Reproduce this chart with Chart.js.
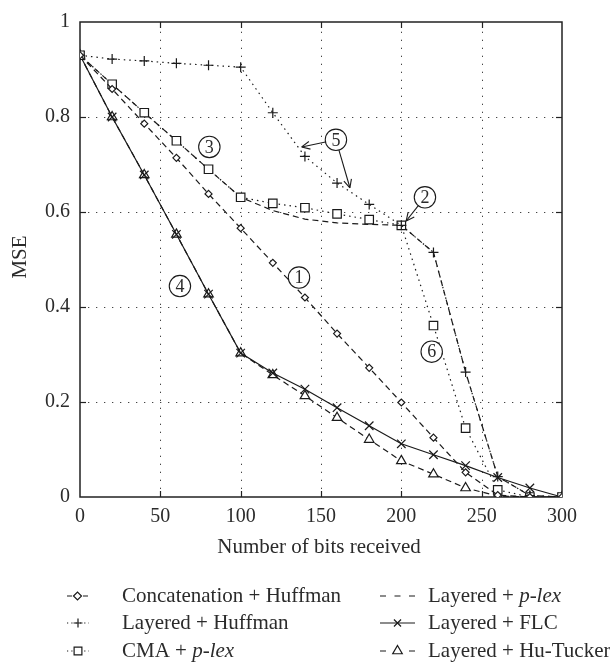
<!DOCTYPE html>
<html>
<head>
<meta charset="utf-8">
<script src="https://cdn.jsdelivr.net/npm/chart.js@4/dist/chart.umd.min.js"></script>
<style>
  html, body { margin: 0; padding: 0; background: #fff; }
  #wrap { width: 610px; height: 662px; position: relative; }
</style>
</head>
<body>
<div id="wrap"><canvas id="chart"></canvas></div>
<script>
// --- data (MSE vs number of bits received) ---
const bits = [0, 20, 40, 60, 80, 100, 120, 140, 160, 180, 200, 220, 240, 260, 280, 300];
const concatHuffman = [0.93, 0.859, 0.786, 0.714, 0.638, 0.566, 0.493, 0.420, 0.344, 0.272, 0.199, 0.125, 0.052, 0.004, 0, 0];
const layeredHuffman = [0.93, 0.922, 0.918, 0.913, 0.909, 0.905, 0.809, 0.717, 0.661, 0.616, 0.572, 0.515, 0.263, 0.043, 0.003, 0];
const cmaPlex = [0.93, 0.869, 0.809, 0.750, 0.690, 0.631, 0.618, 0.609, 0.596, 0.584, 0.572, 0.361, 0.145, 0.015, 0, 0];
const layeredPlex = [0.93, 0.869, 0.809, 0.750, 0.690, 0.631, 0.603, 0.585, 0.577, 0.574, 0.572, 0.515, 0.263, 0.043, 0.003, 0];
const layeredFLC = [0.93, 0.80, 0.678, 0.553, 0.427, 0.303, 0.261, 0.227, 0.188, 0.150, 0.112, 0.089, 0.066, 0.041, 0.019, 0];
const layeredHuTucker = [0.93, 0.80, 0.678, 0.553, 0.427, 0.303, 0.257, 0.213, 0.167, 0.121, 0.076, 0.048, 0.019, 0.002, 0, 0];

const xTicks = [0, 50, 100, 150, 200, 250, 300];
const yTicks = [0, 0.2, 0.4, 0.6, 0.8, 1];

// circled labels and arrows, in data units
const circleLabels = [
  { t: '1', x: 136.3, y: 0.462 },
  { t: '2', x: 214.7, y: 0.631 },
  { t: '3', x: 80.5, y: 0.737 },
  { t: '4', x: 62.2, y: 0.444 },
  { t: '5', x: 159.3, y: 0.752 },
  { t: '6', x: 218.9, y: 0.306 }
];
const arrows = [
  { from: '5', x: 138, y: 0.737 },
  { from: '5', x: 168, y: 0.651 },
  { from: '2', x: 203, y: 0.581 }
];

const INK = '#1a1a1a';
const TEXT = '#2b2b2b';
const FONT = '"Liberation Serif", "DejaVu Serif", serif';

Chart.defaults.font.family = FONT;
Chart.defaults.font.size = 20;
Chart.defaults.color = TEXT;

const toXY = arr => arr.map((v, i) => ({ x: bits[i], y: v }));

// legend symbol: length and dash pattern per series
const datasets = [
  { label: 'Concatenation + Huffman', parts: ['Concatenation + Huffman'], data: toXY(concatHuffman),
    borderDash: [6, 4], pointStyle: 'rectRot', pointRadius: 3.5, pointBackgroundColor: '#fff',
    legLen: 21, legDash: [5, 11], legR: 4 },
  { label: 'Layered + Huffman', parts: ['Layered + Huffman'], data: toXY(layeredHuffman),
    borderDash: [1.5, 4], pointStyle: 'cross', pointRadius: 5, pointBackgroundColor: INK,
    legLen: 22, legDash: [1.2, 3.1], legR: 4.5 },
  { label: 'CMA + p-lex', parts: ['CMA + ', 'p-lex'], data: toXY(cmaPlex),
    borderDash: [1.5, 4], pointStyle: 'rect', pointRadius: 6, pointBackgroundColor: '#fff',
    legLen: 22, legDash: [1.2, 3.1], legR: 5.5 },
  { label: 'Layered + p-lex', parts: ['Layered + ', 'p-lex'], data: toXY(layeredPlex),
    borderDash: [6, 4], pointStyle: 'circle', pointRadius: 0, pointBackgroundColor: '#fff',
    legLen: 35, legDash: [6, 8.5], legR: 0 },
  { label: 'Layered + FLC', parts: ['Layered + FLC'], data: toXY(layeredFLC),
    borderDash: [], pointStyle: 'crossRot', pointRadius: 6, pointBackgroundColor: INK,
    legLen: 35, legDash: [], legR: 5 },
  { label: 'Layered + Hu-Tucker', parts: ['Layered + Hu-Tucker'], data: toXY(layeredHuTucker),
    borderDash: [6, 4], pointStyle: 'triangle', pointRadius: 5.5, pointBackgroundColor: '#fff',
    legLen: 35, legDash: [6, 23], legR: 5.5 }
].map(d => Object.assign({
  borderColor: INK, borderWidth: 1.2, pointBorderColor: INK, pointBorderWidth: 1.2,
  tension: 0, fill: false
}, d));

function strokeLine(ctx, x1, y1, x2, y2) {
  ctx.beginPath(); ctx.moveTo(x1, y1); ctx.lineTo(x2, y2); ctx.stroke();
}

// grid, frame, inner tick marks
const framePlugin = {
  id: 'framePlugin',
  beforeDatasetsDraw(chart) {
    const { ctx, chartArea: a, scales: { x, y } } = chart;
    ctx.save();
    ctx.strokeStyle = '#444';
    ctx.lineWidth = 1;
    ctx.setLineDash([1.3, 6.7]);
    xTicks.slice(1, -1).forEach(v => {
      const px = Math.round(x.getPixelForValue(v)) + 0.5;
      strokeLine(ctx, px, a.bottom, px, a.top);
    });
    yTicks.slice(1, -1).forEach(v => {
      const py = Math.round(y.getPixelForValue(v)) + 0.5;
      strokeLine(ctx, a.left, py, a.right, py);
    });
    ctx.setLineDash([]);
    ctx.strokeStyle = '#222';
    ctx.lineWidth = 1.2;
    xTicks.slice(1, -1).forEach(v => {
      const px = Math.round(x.getPixelForValue(v)) + 0.5;
      strokeLine(ctx, px, a.bottom, px, a.bottom - 6);
      strokeLine(ctx, px, a.top, px, a.top + 6);
    });
    yTicks.slice(1, -1).forEach(v => {
      const py = Math.round(y.getPixelForValue(v)) + 0.5;
      strokeLine(ctx, a.left, py, a.left + 6, py);
      strokeLine(ctx, a.right, py, a.right - 6, py);
    });
    ctx.lineWidth = 1.5;
    ctx.strokeRect(a.left, a.top, a.right - a.left, a.bottom - a.top);
    ctx.restore();
  },
  afterDraw(chart) {
    const { ctx, chartArea: a, scales: { x, y } } = chart;
    ctx.save();

    // axis titles
    ctx.fillStyle = TEXT;
    ctx.font = '21px ' + FONT;
    ctx.textAlign = 'center';
    ctx.textBaseline = 'middle';
    ctx.fillText('Number of bits received', 319, 547);
    ctx.save();
    ctx.translate(20, 257);
    ctx.rotate(-Math.PI / 2);
    ctx.fillText('MSE', 0, 0);
    ctx.restore();

    // circled numbers
    const R = 10.7;
    const centers = {};
    ctx.strokeStyle = INK;
    ctx.lineWidth = 1.1;
    ctx.font = '18px ' + FONT;
    circleLabels.forEach(c => {
      const cx = x.getPixelForValue(c.x), cy = y.getPixelForValue(c.y);
      centers[c.t] = [cx, cy];
      ctx.fillStyle = '#fff';
      ctx.beginPath(); ctx.arc(cx, cy, R, 0, Math.PI * 2); ctx.fill(); ctx.stroke();
      ctx.fillStyle = TEXT;
      ctx.fillText(c.t, cx, cy + 1);
    });

    // arrows with open heads
    arrows.forEach(ar => {
      const [cx, cy] = centers[ar.from];
      const tx = x.getPixelForValue(ar.x), ty = y.getPixelForValue(ar.y);
      const ang = Math.atan2(ty - cy, tx - cx);
      const sx = cx + Math.cos(ang) * R, sy = cy + Math.sin(ang) * R;
      strokeLine(ctx, sx, sy, tx, ty);
      [0.45, -0.45].forEach(d => {
        strokeLine(ctx, tx, ty, tx - Math.cos(ang + d) * 9, ty - Math.sin(ang + d) * 9);
      });
    });

    // legend, two columns of three
    const cols = [{ sx: 67, tx: 122 }, { sx: 380, tx: 428 }];
    const rows = [596, 623, 651];
    chart.data.datasets.forEach((ds, i) => {
      const col = cols[Math.floor(i / 3)];
      const ly = rows[i % 3];
      const mid = col.sx + ds.legLen / 2;
      ctx.strokeStyle = INK;
      ctx.lineWidth = ds.borderWidth;
      ctx.setLineDash(ds.legDash);
      strokeLine(ctx, col.sx, ly, col.sx + ds.legLen, ly);
      ctx.setLineDash([]);
      if (ds.legR > 0) {
        ctx.fillStyle = ds.pointBackgroundColor;
        Chart.helpers.drawPoint(ctx, {
          pointStyle: ds.pointStyle, radius: ds.legR, borderWidth: 1.3, rotation: 0
        }, mid, ly);
      }
      ctx.fillStyle = TEXT;
      ctx.textAlign = 'left';
      let px = col.tx;
      ds.parts.forEach((p, k) => {
        ctx.font = (k === 1 ? 'italic ' : '') + '21px ' + FONT;
        ctx.fillText(p, px, ly);
        px += ctx.measureText(p).width;
      });
    });
    ctx.restore();
  }
};

new Chart(document.getElementById('chart'), {
  type: 'line',
  data: { datasets },
  options: {
    responsive: true,
    maintainAspectRatio: false,
    animation: false,
    layout: { padding: { left: 0, top: 15, right: 48, bottom: 0 } },
    plugins: { legend: { display: false }, tooltip: { enabled: false } },
    scales: {
      x: {
        type: 'linear', min: 0, max: 300,
        afterBuildTicks: s => { s.ticks = xTicks.map(v => ({ value: v })); },
        afterFit: s => { s.height = 165; },
        grid: { display: false, drawTicks: false },
        border: { display: false },
        ticks: { padding: 8, color: TEXT, maxRotation: 0 }
      },
      y: {
        min: 0, max: 1,
        afterBuildTicks: s => { s.ticks = yTicks.map(v => ({ value: v })); },
        afterFit: s => { s.width = 80; },
        grid: { display: false, drawTicks: false },
        border: { display: false },
        ticks: { padding: 10, color: TEXT, callback: v => String(+v.toFixed(1)) }
      }
    }
  },
  plugins: [framePlugin]
});
</script>
</body>
</html>
